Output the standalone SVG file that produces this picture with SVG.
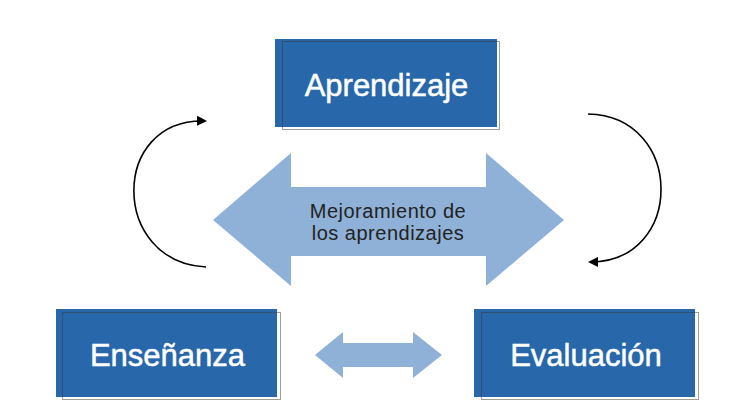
<svg xmlns="http://www.w3.org/2000/svg" width="740" height="416" viewBox="0 0 740 416">
<style>
.box{fill:#2767aa}
.frame{fill:none;stroke:#3a3a3a;stroke-width:1;stroke-dasharray:1 1}
.lbl{font-family:"Liberation Sans",Arial,sans-serif;font-size:31px;fill:#fff;stroke:#fff;stroke-width:0.5;text-anchor:middle}
.arr{fill:#8fb1d8}
.mid{font-family:"Liberation Sans",Arial,sans-serif;font-size:20px;fill:#222;text-anchor:middle;letter-spacing:0.5px}
.curve{fill:none;stroke:#000;stroke-width:1.6}
</style>
<defs>
<marker id="ah" markerWidth="12" markerHeight="12" refX="8" refY="5.5" orient="auto" markerUnits="userSpaceOnUse">
<path d="M0,0.5 L10,5.5 L0,10.5 Z" fill="#000"/>
</marker>
</defs>
<rect width="740" height="416" fill="#fff"/>
<g id="aprendizaje">
<rect class="box" x="275" y="39" width="222" height="88"/>
<rect class="frame" x="282.5" y="41.5" width="217" height="88"/>
<text class="lbl" x="386.5" y="96">Aprendizaje</text>
</g>
<g id="ensenanza">
<rect class="box" x="56" y="309" width="221" height="88"/>
<rect class="frame" x="62.5" y="312.5" width="218" height="87"/>
<text class="lbl" x="167.5" y="366">Enseñanza</text>
</g>
<g id="evaluacion">
<rect class="box" x="474" y="309" width="221" height="88"/>
<rect class="frame" x="481.5" y="312.5" width="217" height="87"/>
<text class="lbl" x="586" y="366">Evaluación</text>
</g>
<g id="mejoramiento">
<polygon class="arr" points="213,220 291,153 291,187 486,187 486,153 564,220 486,286 486,256 291,256 291,286"/>
<text class="mid" x="388" y="218">Mejoramiento de</text>
<text class="mid" x="388" y="240">los aprendizajes</text>
</g>
<g id="connectors">
<polygon class="arr" points="315,355 343,332 343,343 413,343 413,332 442,355 413,378 413,367 343,367 343,378"/>
<path class="curve" d="M206,267 C110,262 110,118 205,121" marker-end="url(#ah)"/>
<path class="curve" d="M588,114 C685,116 685,262 590,262" marker-end="url(#ah)"/>
</g>
</svg>
